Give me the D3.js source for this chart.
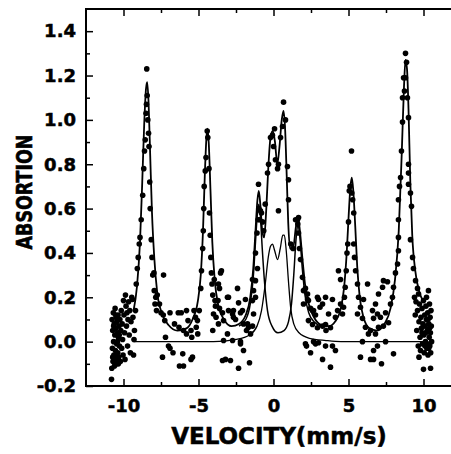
<html>
<head>
<script src="https://d3js.org/d3.v7.min.js"></script>
<style>
  body { margin: 0; background: white; }
  text { font-family: "DejaVu Sans", sans-serif; font-weight: bold; fill: black; stroke: black; stroke-width: 0.5px; }
  .tick text { font-size: 18px; }
  .title { font-size: 23px; }
  .ytitle { font-size: 17.5px; }
</style>
</head>
<body>
<svg width="451" height="454"></svg>
<script>
// axis ticks
var xTicks = [-10, -5, 0, 5, 10];
var xMinor = [-7.5, -2.5, 2.5, 7.5];
var yTicks = [-0.2, 0.0, 0.2, 0.4, 0.6, 0.8, 1.0, 1.2, 1.4];
var yMinor = [-0.1, 0.1, 0.3, 0.5, 0.7, 0.9, 1.1, 1.3];

var edgeLeft = [[-10.8,-0.17],[-10.78,-0.12],[-10.76,0.1],[-10.74,-0.03],[-10.72,0.05],[-10.7,-0.09],[-10.68,0.13],
  [-10.66,0.0],[-10.64,-0.06],[-10.62,0.08],[-10.6,-0.11],[-10.58,0.03],[-10.56,0.15],[-10.54,-0.04],[-10.52,0.06],
  [-10.5,-0.08],[-10.48,0.11],[-10.46,-0.01],[-10.44,0.09],[-10.42,-0.1],[-10.4,0.04],[-10.38,-0.05],[-10.36,0.12],
  [-10.34,0.02],[-10.32,-0.07],[-10.3,0.07],[-10.27,-0.02],[-10.24,0.1],[-10.21,-0.09],[-10.18,0.05],[-10.15,0.14],
  [-10.12,-0.03],[-10.09,0.08],[-10.06,0.01],[-10.03,-0.06],[-10.0,0.185],[-9.97,0.12],[-9.93,0.04],[-9.9,-0.08],
  [-9.87,0.21],[-9.83,0.16],[-9.8,0.07],[-9.77,0.13],[-9.73,-0.02],[-9.7,0.1],[-9.66,0.18],[-9.62,0.03],[-9.58,0.14],
  [-9.54,-0.05],[-9.5,0.09],[-9.45,0.2],[-9.4,0.19],[-9.37,0.11],[-9.33,-0.06],[-9.3,0.01],[-9.27,0.05],
  [-10.72,-0.07],[-10.66,0.07],[-10.58,-0.09],[-10.52,0.12],[-10.46,-0.06],[-10.4,0.0],[-10.34,-0.1],[-10.28,0.03]];

var peakOne = [[-9.2,0.14],[-9.15,0.26],[-9.08,0.33],[-9.02,0.38],[-8.95,0.44],[-8.9,0.47],[-8.82,0.55],[-8.72,0.66],
  [-8.65,0.78],[-8.6,0.86],[-8.55,0.91],[-8.5,1.03],[-8.47,1.07],[-8.42,1.11],[-8.45,1.23],[-8.38,1.0],[-8.33,0.94],
  [-8.3,0.88],[-8.25,0.72],[-8.22,0.6],[-8.15,0.46],[-8.1,0.38],[-8.05,0.3],[-7.97,0.31],[-7.95,0.23],[-7.85,0.2],
  [-7.9,0.17],[-7.8,0.14],[-7.75,0.21],[-7.6,0.17],[-7.5,0.13],[-7.35,0.12],[-7.33,0.3],[-7.25,0.095],[-7.2,0.02],
  [-7.4,-0.07],[-7.0,-0.02],[-6.9,-0.03],[-6.6,0.08],[-6.7,-0.05],[-6.35,0.13],[-6.3,0.065],[-6.15,0.13],[-6.05,-0.055],
  [-6.0,-0.11],[-6.0,0.05],[-5.8,0.14],[-5.8,0.035],[-5.7,0.095],[-5.5,0.05],[-5.45,0.02],[-5.5,-0.08],[-5.3,0.14],
  [-5.2,0.11],[-5.15,0.065],[-5.05,0.035],[-5.07,0.095],[-5.4,-0.07],[-6.27,-0.11],[-6.9,0.13]];

var peakTwo = [[-4.95,0.14],[-4.85,0.24],[-4.8,0.32],[-4.72,0.42],[-4.68,0.5],[-4.65,0.6],[-4.62,0.7],[-4.55,0.77],
  [-4.5,0.83],[-4.42,0.95],[-4.38,0.92],[-4.3,0.78],[-4.27,0.58],[-4.22,0.48],[-4.18,0.38],[-4.14,0.31],[-4.1,0.26],
  [-4.05,0.21],[-3.95,0.28],[-3.87,0.16],[-3.83,0.11],[-3.53,0.31],[-3.4,-0.085],[-4.05,0.05]];

var valleyCenter = [[-3.9,0.185],[-4.0,0.125],[-3.67,0.26],[-3.6,0.24],[-3.47,0.32],[-3.7,0.185],[-3.6,0.15],
  [-3.4,0.13],[-3.33,0.095],[-3.67,0.08],[-3.07,0.2],[-3.0,0.14],[-2.73,0.125],[-2.67,0.14],[-2.53,0.1],[-2.4,0.24],
  [-2.33,0.175],[-1.87,0.19],[-2.07,0.14],[-2.0,0.08],[-1.73,0.08],[-1.67,0.065],[-3.07,0.035],[-3.33,0.005],
  [-2.73,0.005],[-2.2,-0.01],[-2.0,-0.04],[-3.2,-0.08],[-2.87,-0.085],[-2.33,-0.12],[-1.6,-0.095],[-1.53,0.035],
  [-1.4,0.07],[-3.0,0.2],[-2.2,0.13],[-2.67,0.11],[-2.2,0.0],[-1.8,0.05]];

var peakCenter = [[-1.33,0.125],[-1.2,0.2],[-1.2,0.275],[-1.07,0.33],[-1.4,0.185],[-1.4,0.28],[-1.33,0.23],
  [-1.2,0.4],[-1.1,0.49],[-1.03,0.55],[-0.87,0.59],[-1.0,0.71],[-0.98,0.6],[-0.8,0.58],[-0.73,0.54],[-0.93,0.55],
  [-0.65,0.5],[-0.55,0.62],[-0.4,0.76],[-0.33,0.8],[-0.2,0.92],[-0.07,0.93],[0.07,0.96],[0.0,0.88],[0.13,0.82],
  [0.27,0.78],[0.33,0.8],[0.47,0.92],[0.6,0.97],[0.67,1.08],[0.8,1.0],[0.93,0.79],[1.0,0.73],[1.0,0.64],[0.33,0.59],
  [1.15,0.44],[1.3,0.42],[1.47,0.55],[1.6,0.55],[1.67,0.56],[1.62,0.53],[1.67,0.49],[1.73,0.42],[1.8,0.37],
  [1.93,0.29],[2.13,0.24],[2.0,0.23],[2.33,0.185],[2.6,0.14]];

var valleyRight = [[2.0,0.17],[2.27,0.19],[2.47,0.15],[2.67,0.14],[2.8,0.12],[2.93,0.2],[3.27,0.17],[3.47,0.2],
  [3.93,0.19],[4.33,0.32],[4.47,0.28],[2.33,0.095],[2.6,0.077],[2.93,0.063],[3.27,0.07],[3.47,0.077],[3.8,0.063],
  [4.13,0.11],[4.27,0.14],[4.47,0.17],[2.13,-0.01],[2.67,0.0],[3.0,-0.005],[3.47,-0.02],[2.47,-0.05],[3.27,-0.08],
  [3.8,-0.115],[4.13,-0.04],[2.2,-0.02],[2.8,-0.01],[3.93,-0.02],[3.67,0.125],[3.1,0.155],[3.0,0.19],[3.5,0.05],
  [2.27,0.215]];

var peakFive = [[4.6,0.125],[4.67,0.155],[4.73,0.2],[4.78,0.245],[4.85,0.32],[4.9,0.4],[4.95,0.44],[5.0,0.54],
  [5.1,0.7],[5.2,0.86],[5.22,0.67],[5.28,0.64],[5.35,0.58],[5.05,0.68],[5.35,0.44],[5.4,0.38],[5.47,0.32],[5.6,0.26],
  [5.67,0.2],[5.8,0.155],[5.6,0.125],[5.93,0.105]];

var valleyFar = [[6.27,0.26],[6.0,0.19],[6.13,0.065],[6.33,0.035],[6.6,0.14],[6.8,0.17],[7.0,0.215],[7.33,0.275],
  [7.6,0.27],[7.27,0.245],[6.93,0.125],[6.67,0.105],[7.13,0.11],[7.47,0.13],[6.47,0.05],[6.8,0.035],[7.0,0.065],
  [7.33,0.07],[7.67,0.085],[7.8,0.17],[7.93,0.2],[8.0,0.245],[8.13,0.31],[8.27,0.35],[6.93,-0.02],[6.67,-0.04],
  [5.8,-0.07],[6.47,-0.08],[6.67,-0.08],[8.0,-0.055],[7.2,-0.1],[5.93,0.0],[7.47,0.0]];

var peakSix = [[8.33,0.41],[8.33,0.47],[8.33,0.55],[8.33,0.64],[8.4,0.7],[8.47,0.74],[8.53,0.86],[8.6,0.99],
  [8.6,1.1],[8.67,1.19],[8.8,1.3],[8.87,1.26],[8.73,1.13],[8.93,1.1],[9.0,1.01],[9.0,0.8],[9.0,0.76],[9.0,0.71],
  [9.13,0.67],[9.2,0.61],[8.8,1.19],[9.13,0.46],[9.27,0.38],[9.33,0.33],[9.47,0.275],[9.6,0.24],[9.67,0.215]];

var edgeRight = [[9.4,0.2],[9.45,0.12],[9.5,0.18],[9.55,0.05],[9.6,0.14],[9.65,-0.02],[9.7,0.09],[9.73,0.17],
  [9.77,0.02],[9.8,-0.04],[9.83,0.11],[9.86,0.06],[9.9,0.15],[9.93,-0.01],[9.96,0.08],[10.0,0.185],[10.02,0.03],
  [10.05,-0.05],[10.08,0.12],[10.1,0.07],[10.13,0.0],[10.16,0.16],[10.19,0.1],[10.22,-0.03],[10.25,0.05],
  [10.28,0.13],[10.3,-0.06],[10.33,0.23],[10.35,0.08],[10.38,0.02],[10.4,0.17],[10.42,-0.02],[10.44,0.11],
  [10.46,0.04],[10.48,-0.05],[10.5,0.14],[10.52,0.07],[10.54,0.0],[10.47,-0.12],[10.0,-0.125],[9.7,-0.07],
  [10.2,0.2],[10.1,-0.02],[10.3,0.1],[9.9,0.04],[10.25,-0.01],[10.4,0.06],[10.15,0.04],[10.35,-0.03]];

// fitted curves
var fitTotal = [[-9.33,0.14],[-9.1,0.25],[-8.9,0.45],[-8.75,0.72],[-8.62,0.98],[-8.5,1.14],[-8.42,1.17],[-8.33,1.08],
  [-8.22,0.84],[-8.1,0.58],[-7.95,0.38],[-7.75,0.22],[-7.45,0.13],[-7.0,0.075],[-6.4,0.05],[-5.8,0.06],[-5.4,0.1],
  [-5.05,0.18],[-4.85,0.3],[-4.7,0.5],[-4.58,0.75],[-4.47,0.92],[-4.4,0.96],[-4.32,0.9],[-4.2,0.68],[-4.08,0.45],
  [-3.92,0.28],[-3.7,0.17],[-3.3,0.1],[-2.8,0.07],[-2.3,0.08],[-1.85,0.12],[-1.55,0.2],[-1.35,0.33],[-1.2,0.5],
  [-1.07,0.64],[-0.98,0.68],[-0.88,0.62],[-0.75,0.5],[-0.62,0.47],[-0.48,0.6],[-0.35,0.78],[-0.2,0.92],[-0.05,0.95],
  [0.1,0.9],[0.25,0.8],[0.4,0.88],[0.55,1.0],[0.67,1.04],[0.78,0.95],[0.88,0.75],[0.98,0.54],[1.1,0.42],[1.3,0.42],
  [1.5,0.52],[1.63,0.56],[1.76,0.5],[1.92,0.38],[2.1,0.26],[2.35,0.17],[2.7,0.11],[3.2,0.075],[3.7,0.07],[4.1,0.09],
  [4.45,0.14],[4.7,0.24],[4.88,0.4],[5.02,0.58],[5.13,0.7],[5.22,0.74],[5.32,0.68],[5.45,0.52],[5.58,0.34],
  [5.75,0.2],[6.0,0.11],[6.4,0.06],[6.9,0.05],[7.4,0.08],[7.8,0.15],[8.1,0.28],[8.35,0.5],[8.55,0.85],[8.7,1.15],
  [8.8,1.27],[8.9,1.23],[9.0,1.05],[9.12,0.72],[9.25,0.48],[9.45,0.32],[9.7,0.23],[10.0,0.18]];

var fitSextet = [[-2.3,0.07],[-1.85,0.1],[-1.55,0.17],[-1.35,0.29],[-1.2,0.45],[-1.07,0.58],[-0.98,0.62],
  [-0.88,0.57],[-0.75,0.42],[-0.6,0.27],[-0.4,0.14],[-0.1,0.07],[0.3,0.04],[0.7,0.05],[1.0,0.09],[1.2,0.17],
  [1.35,0.3],[1.5,0.46],[1.63,0.53],[1.76,0.47],[1.92,0.33],[2.1,0.21],[2.35,0.13],[2.7,0.09],[3.2,0.07]];

var fitDoublet = [[-9.33,0.0],[-4.0,0.0],[-2.5,0.01],[-1.6,0.03],[-1.1,0.07],[-0.8,0.14],[-0.55,0.26],[-0.35,0.38],
  [-0.2,0.43],[-0.07,0.44],[0.08,0.41],[0.27,0.37],[0.45,0.42],[0.62,0.48],[0.72,0.48],[0.85,0.41],[1.0,0.27],
  [1.15,0.15],[1.35,0.08],[1.7,0.04],[2.4,0.015],[3.5,0.005],[4.5,0.0],[10.0,0.0]];

var points = [].concat(edgeLeft, peakOne, peakTwo, valleyCenter, peakCenter,
  valleyRight, peakFive, valleyFar, peakSix, edgeRight);

var svg = d3.select("svg");
var plotLeft = 86, plotRight = 461, plotTop = 9, plotBottom = 386;

var x = d3.scaleLinear().domain([-12.5, 12.5]).range([plotLeft, plotRight]);
var y = d3.scaleLinear().domain([-0.2, 1.5]).range([plotBottom, plotTop]);

var line = d3.line()
  .x(function(d){return x(d[0]);})
  .y(function(d){return y(d[1]);})
  .curve(d3.curveMonotoneX);

// curves
svg.append("path").datum(fitDoublet).attr("d", line)
  .attr("fill", "none").attr("stroke", "black").attr("stroke-width", 1.3);
svg.append("path").datum(fitSextet).attr("d", line)
  .attr("fill", "none").attr("stroke", "black").attr("stroke-width", 1.5);
svg.append("path").datum(fitTotal).attr("d", line)
  .attr("fill", "none").attr("stroke", "black").attr("stroke-width", 1.8);

// data points
svg.append("g")
  .selectAll("circle")
  .data(points)
  .enter()
  .append("circle")
  .attr("cx", function(d){return x(d[0]);})
  .attr("cy", function(d){return y(d[1]);})
  .attr("r", 2.8)
  .attr("fill", "black");

// axes, ticks point inward
svg.append("g").attr("transform", "translate(0," + plotBottom + ")")
  .call(d3.axisBottom(x).tickValues(xTicks).tickSize(-7).tickPadding(13)
    .tickFormat(function(d){return String(d);}));
svg.append("g").attr("transform", "translate(0," + plotBottom + ")")
  .call(d3.axisBottom(x).tickValues(xMinor).tickSize(-4).tickFormat(""));
svg.append("g").attr("transform", "translate(0," + plotTop + ")")
  .call(d3.axisTop(x).tickValues(xTicks).tickSize(-7).tickFormat(""));
svg.append("g").attr("transform", "translate(0," + plotTop + ")")
  .call(d3.axisTop(x).tickValues(xMinor).tickSize(-4).tickFormat(""));
svg.append("g").attr("transform", "translate(" + plotLeft + ",0)")
  .call(d3.axisLeft(y).tickValues(yTicks).tickSize(-7).tickPadding(10)
    .tickFormat(function(d){return d.toFixed(1);}));
svg.append("g").attr("transform", "translate(" + plotLeft + ",0)")
  .call(d3.axisLeft(y).tickValues(yMinor).tickSize(-4).tickFormat(""));

svg.selectAll(".domain").remove();
svg.selectAll(".tick line").attr("stroke-width", 1.5);

// frame
svg.append("rect")
  .attr("x", plotLeft).attr("y", plotTop)
  .attr("width", plotRight - plotLeft).attr("height", plotBottom - plotTop)
  .attr("fill", "none").attr("stroke", "black").attr("stroke-width", 2);

// titles
svg.append("text").attr("class", "title")
  .attr("x", 279).attr("y", 444)
  .attr("text-anchor", "middle")
  .text("VELOCITY(mm/s)");
svg.append("text").attr("class", "ytitle")
  .attr("transform", "translate(32,192) rotate(-90) scale(1,1.25)")
  .attr("text-anchor", "middle")
  .text("ABSORTION");
</script>
</body>
</html>
